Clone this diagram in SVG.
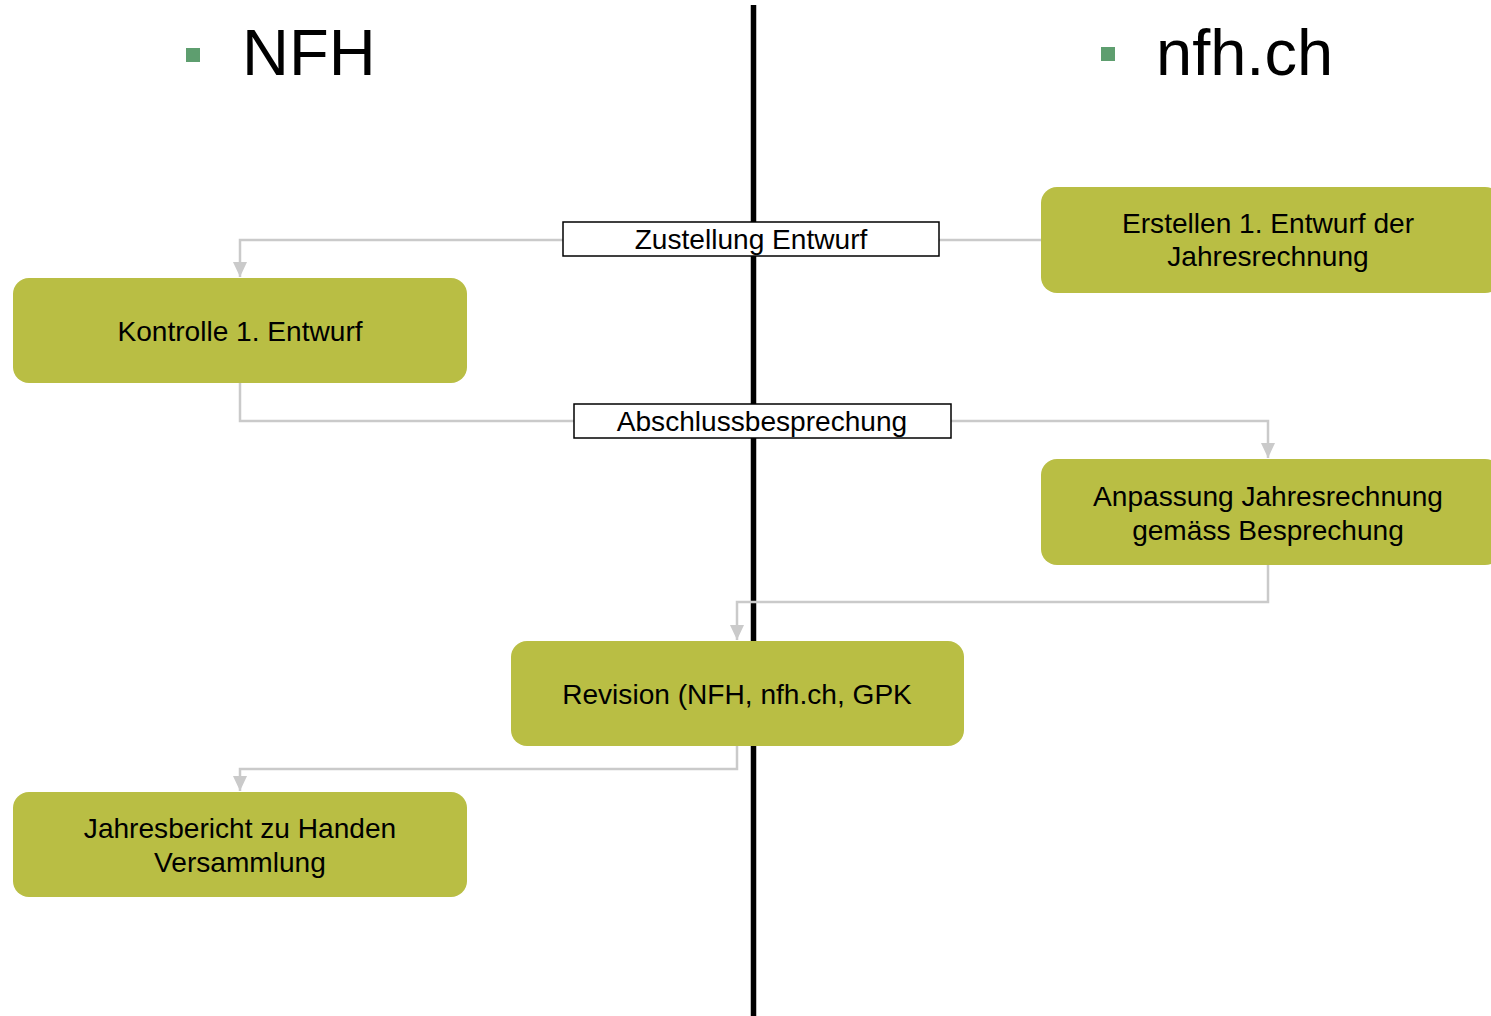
<svg xmlns="http://www.w3.org/2000/svg" width="1491" height="1016" viewBox="0 0 1491 1016">
<defs>
<style>
.node{fill:#B9BE44;}
.t{font-family:"Liberation Sans",Arial,sans-serif;font-size:28.1px;fill:#000;text-anchor:middle;}
.title{font-family:"Liberation Sans",Arial,sans-serif;font-size:65px;fill:#000;}
.bullet{fill:#5E9E6F;}
.conn{fill:none;stroke:#CACACA;stroke-width:2.5;}
.lbl{fill:#fff;stroke:#000;stroke-width:1.5;}
</style>
<marker id="arr" markerWidth="16" markerHeight="16" viewBox="0 0 16 16" refX="8" refY="15" orient="0" markerUnits="userSpaceOnUse">
<path d="M1,0 L15,0 L8,15 Z" fill="#CACACA"/>
</marker>
</defs>
<rect width="1491" height="1016" fill="#fff"/>
<g id="header">
<rect class="bullet" x="186" y="48" width="14" height="14"/>
<text class="title" x="242" y="75">NFH</text>
<rect class="bullet" x="1101" y="47" width="14" height="14"/>
<text class="title" x="1156" y="75">nfh.ch</text>
</g>
<line id="divider" x1="753.5" y1="5" x2="753.5" y2="1016" stroke="#000" stroke-width="5.5"/>
<g id="connectors">
<path class="conn" d="M1041,240 H240 V277" marker-end="url(#arr)"/>
<path class="conn" d="M240,383 V421 H1268 V458" marker-end="url(#arr)"/>
<path class="conn" d="M1268,565 V602 H737 V640" marker-end="url(#arr)"/>
<path class="conn" d="M737,746 V769 H240 V791" marker-end="url(#arr)"/>
<g id="label-zustellung">
<rect class="lbl" x="563" y="222" width="376" height="34"/>
<text class="t" x="751" y="249">Zustellung Entwurf</text>
</g>
<g id="label-abschluss">
<rect class="lbl" x="574" y="404" width="377" height="34"/>
<text class="t" x="762" y="431">Abschlussbesprechung</text>
</g>
</g>
<g id="erstellen">
<rect class="node" x="1041" y="187" width="460" height="106" rx="16"/>
<text class="t" x="1268" y="233">Erstellen 1. Entwurf der</text>
<text class="t" x="1268" y="266">Jahresrechnung</text>
</g>
<g id="kontrolle">
<rect class="node" x="13" y="278" width="454" height="105" rx="16"/>
<text class="t" x="240" y="341">Kontrolle 1. Entwurf</text>
</g>
<g id="anpassung">
<rect class="node" x="1041" y="459" width="460" height="106" rx="16"/>
<text class="t" x="1268" y="506">Anpassung Jahresrechnung</text>
<text class="t" x="1268" y="540">gemäss Besprechung</text>
</g>
<g id="revision">
<rect class="node" x="511" y="641" width="453" height="105" rx="16"/>
<text class="t" x="737" y="704">Revision (NFH, nfh.ch, GPK</text>
</g>
<g id="jahresbericht">
<rect class="node" x="13" y="792" width="454" height="105" rx="16"/>
<text class="t" x="240" y="838">Jahresbericht zu Handen</text>
<text class="t" x="240" y="872">Versammlung</text>
</g>
</svg>
